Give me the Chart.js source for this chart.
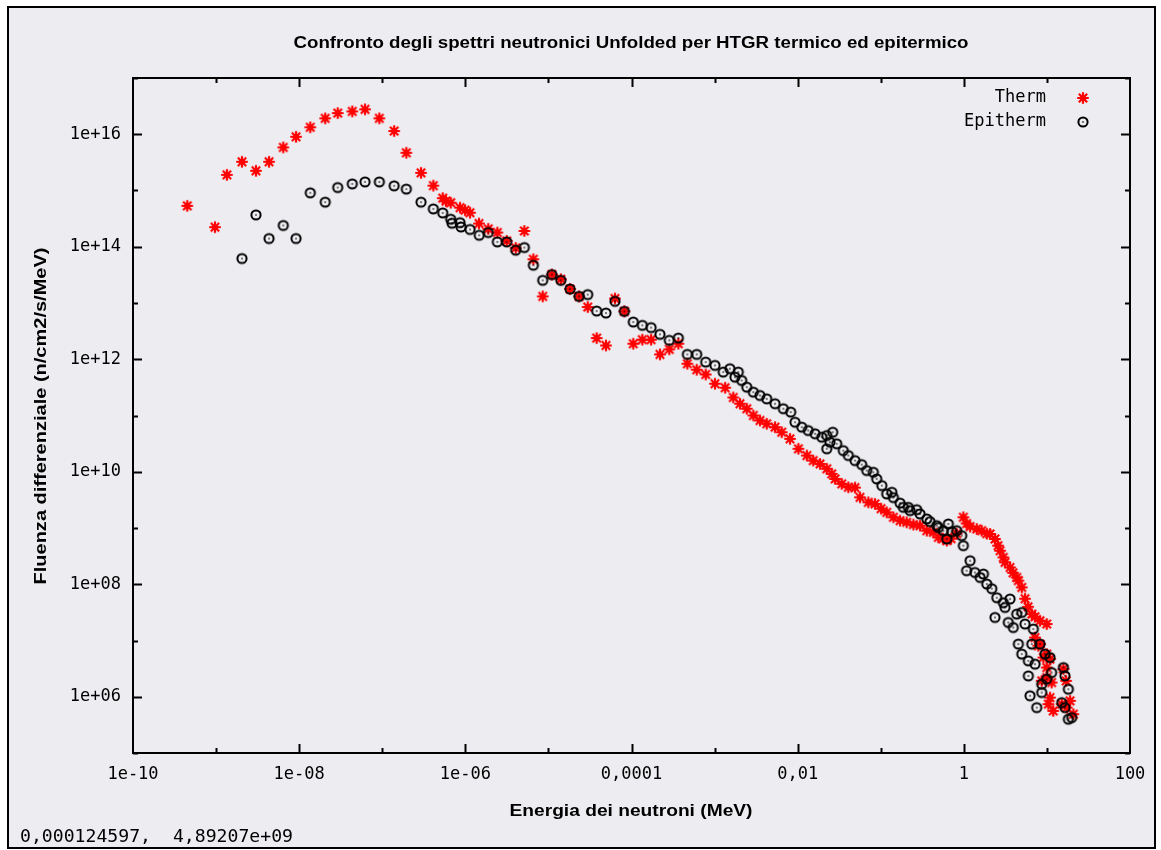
<!DOCTYPE html>
<html><head><meta charset="utf-8">
<script src="https://cdn.jsdelivr.net/npm/chart.js@4.4.1/dist/chart.umd.min.js"></script>
<style>html,body{margin:0;padding:0;background:#fff;overflow:hidden}#wrap{position:absolute;left:0;top:0;width:1161px;height:850px}canvas{display:block}</style>
</head><body><div id="wrap"><canvas id="c" width="1161" height="850"></canvas></div>
<script>
const chartTitle = 'Confronto degli spettri neutronici Unfolded per HTGR termico ed epitermico';
const xAxisTitle = 'Energia dei neutroni (MeV)';
const yAxisTitle = 'Fluenza differenziale (n/cm2/s/MeV)';
const cursorText = '0,000124597,  4,89207e+09';
const seriesNames = ['Therm', 'Epitherm'];
const xTickValues = [1e-10, 1e-8, 1e-6, 1e-4, 1e-2, 1, 100];
const xTickLabels = ['1e-10', '1e-08', '1e-06', '0,0001', '0,01', '1', '100'];
const yTickValues = [1e6, 1e8, 1e10, 1e12, 1e14, 1e16];
const yTickLabels = ['1e+06', '1e+08', '1e+10', '1e+12', '1e+14', '1e+16'];

const thermE = [4.50e-10, 9.70e-10, 1.35e-9, 2.05e-9, 3.02e-9, 4.34e-9, 6.44e-9, 9.16e-9, 1.36e-8, 2.06e-8,
  2.91e-8, 4.36e-8, 6.20e-8, 9.22e-8, 1.39e-7, 1.95e-7, 2.93e-7, 4.12e-7, 5.34e-7, 5.85e-7,
  6.67e-7, 8.63e-7, 9.91e-7, 1.14e-6, 1.46e-6, 1.89e-6, 2.43e-6, 3.15e-6, 4.04e-6, 5.13e-6,
  6.58e-6, 8.54e-6, 1.10e-5, 1.41e-5, 1.82e-5, 2.34e-5, 2.97e-5, 3.81e-5, 4.93e-5, 6.33e-5,
  8.20e-5, 1.05e-4, 1.35e-4, 1.72e-4, 2.20e-4, 2.85e-4, 3.66e-4, 4.70e-4, 6.10e-4, 7.82e-4,
  1.01e-3, 1.34e-3, 1.68e-3, 2.02e-3, 2.44e-3, 2.93e-3, 3.52e-3, 4.24e-3, 5.34e-3, 6.43e-3,
  8.09e-3, 1.02e-2, 1.29e-2, 1.54e-2, 1.86e-2, 2.24e-2, 2.57e-2, 2.82e-2, 3.39e-2, 4.07e-2,
  4.90e-2, 5.63e-2, 7.09e-2, 8.53e-2, 0.101, 0.118, 0.142, 0.171, 0.205, 0.247,
  0.297, 0.358, 0.430, 0.493, 0.562, 0.623, 0.702, 0.821, 0.986, 1.08,
  1.19, 1.43, 1.64, 1.89, 2.07, 2.37, 2.58, 2.73, 2.99, 3.13,
  3.60, 3.91, 4.33, 4.53, 4.98, 5.45, 5.92, 6.57, 7.19, 8.26,
  9.95, 7.19, 7.88, 8.26, 9.06, 9.95, 10.9, 9.95, 8.66, 9.95,
  11.4, 15.8, 10.9, 10.4, 11.9, 15.1, 17.3, 19.0, 20.8, 17.0];
const thermF = [5.33e14, 2.23e14, 1.90e15, 3.24e15, 2.24e15, 3.24e15, 5.84e15, 9.02e15, 1.33e16, 1.92e16,
  2.38e16, 2.55e16, 2.77e16, 1.92e16, 1.14e16, 4.68e15, 2.06e15, 1.22e15, 7.31e14, 6.46e14,
  6.07e14, 4.95e14, 4.47e14, 4.03e14, 2.59e14, 2.08e14, 1.79e14, 1.27e14, 9.53e13, 1.91e14,
  5.99e13, 1.31e13, 3.20e13, 2.64e13, 1.77e13, 1.31e13, 8.48e12, 2.38e12, 1.76e12, 1.20e13,
  7.11e12, 1.89e12, 2.23e12, 2.23e12, 1.22e12, 1.50e12, 1.89e12, 8.33e11, 6.52e11, 5.37e11,
  3.67e11, 3.12e11, 2.09e11, 1.62e11, 1.32e11, 1.00e11, 8.16e10, 7.12e10, 6.20e10, 5.05e10,
  3.85e10, 2.56e10, 1.94e10, 1.58e10, 1.38e10, 1.13e10, 9.17e9, 7.47e9, 6.09e9, 5.29e9,
  5.23e9, 3.51e9, 2.86e9, 2.68e9, 2.21e9, 1.90e9, 1.55e9, 1.35e9, 1.26e9, 1.15e9,
  1.10e9, 8.97e8, 8.37e8, 6.82e8, 6.47e8, 5.96e8, 6.47e8, 7.93e8, 1.55e9, 1.20e9,
  1.06e9, 9.62e8, 8.97e8, 7.93e8, 7.84e8, 6.39e8, 4.85e8, 3.95e8, 3.00e8, 2.45e8,
  1.99e8, 1.60e8, 1.32e8, 1.16e8, 8.78e7, 5.53e7, 3.98e7, 2.95e7, 2.64e7, 2.24e7,
  1.96e7, 1.13e7, 8.05e6, 8.63e6, 4.98e6, 5.73e6, 4.67e6, 3.31e6, 1.92e6, 2.19e6,
  1.79e6, 3.10e6, 9.67e5, 7.38e5, 5.60e5, 7.38e5, 6.42e5, 8.45e5, 4.90e5, 1.92e6];

const epiE = [2.05e-9, 3.02e-9, 4.34e-9, 6.44e-9, 9.16e-9, 1.36e-8, 2.06e-8, 2.91e-8, 4.36e-8, 6.20e-8,
  9.22e-8, 1.39e-7, 1.95e-7, 2.93e-7, 4.12e-7, 5.34e-7, 6.67e-7, 6.91e-7, 8.63e-7, 8.87e-7,
  1.14e-6, 1.47e-6, 1.89e-6, 2.43e-6, 3.15e-6, 4.04e-6, 5.13e-6, 6.58e-6, 8.54e-6, 1.10e-5,
  1.41e-5, 1.82e-5, 2.34e-5, 2.97e-5, 3.81e-5, 4.93e-5, 6.33e-5, 8.20e-5, 1.05e-4, 1.35e-4,
  1.72e-4, 2.20e-4, 2.85e-4, 3.66e-4, 4.70e-4, 6.10e-4, 7.82e-4, 1.01e-3, 1.27e-3, 1.53e-3,
  1.76e-3, 1.93e-3, 2.12e-3, 2.44e-3, 2.93e-3, 3.52e-3, 4.24e-3, 5.34e-3, 6.72e-3, 8.25e-3,
  9.30e-3, 1.12e-2, 1.34e-2, 1.62e-2, 1.95e-2, 2.24e-2, 2.64e-2, 2.45e-2, 2.24e-2, 2.95e-2,
  3.54e-2, 4.07e-2, 4.90e-2, 5.90e-2, 6.78e-2, 8.14e-2, 8.95e-2, 0.103, 0.118, 0.136,
  0.142, 0.171, 0.187, 0.215, 0.225, 0.271, 0.297, 0.358, 0.392, 0.472,
  0.493, 0.567, 0.623, 0.651, 0.715, 0.821, 0.943, 0.986, 1.19, 1.08,
  1.36, 1.57, 1.72, 1.89, 2.17, 2.49, 2.99, 3.60, 2.37, 3.13,
  3.43, 3.94, 4.33, 4.98, 5.45, 6.86, 4.53, 6.57, 8.26, 4.98,
  5.98, 7.19, 9.49, 10.9, 11.4, 5.98, 9.95, 8.66, 8.66, 6.26,
  7.54, 15.8, 16.5, 18.1, 15.1, 16.5, 18.1, 19.9];
const epiF = [6.17e13, 3.68e14, 1.40e14, 2.39e14, 1.40e14, 9.08e14, 6.20e14, 1.13e15, 1.31e15, 1.42e15,
  1.42e15, 1.21e15, 1.06e15, 6.20e14, 4.71e14, 4.00e14, 3.09e14, 2.62e14, 2.68e14, 2.25e14,
  2.03e14, 1.60e14, 1.79e14, 1.22e14, 1.22e14, 8.67e13, 9.68e13, 4.69e13, 2.53e13, 3.20e13,
  2.53e13, 1.77e13, 1.31e13, 1.41e13, 7.20e12, 6.63e12, 1.07e13, 7.11e12, 4.59e12, 4.01e12,
  3.65e12, 2.77e12, 2.17e12, 2.38e12, 1.22e12, 1.22e12, 8.90e11, 7.77e11, 5.91e11, 6.79e11,
  4.81e11, 5.91e11, 4.20e11, 3.19e11, 2.60e11, 2.27e11, 1.98e11, 1.62e11, 1.32e11, 1.15e11,
  7.60e10, 6.20e10, 5.41e10, 4.73e10, 4.11e10, 4.41e10, 5.05e10, 3.35e10, 2.56e10, 3.14e10,
  2.38e10, 1.94e10, 1.58e10, 1.34e10, 1.05e10, 9.79e9, 7.47e9, 5.68e9, 4.04e9, 4.31e9,
  3.47e9, 2.77e9, 2.33e9, 2.33e9, 2.04e9, 2.12e9, 1.78e9, 1.45e9, 1.30e9, 1.10e9,
  1.02e9, 8.97e8, 6.39e8, 1.18e9, 8.61e8, 8.97e8, 7.31e8, 4.85e8, 2.62e8, 1.74e8,
  1.62e8, 1.32e8, 1.52e8, 1.01e8, 8.33e7, 5.76e7, 4.69e7, 5.46e7, 2.57e7, 3.87e7,
  2.09e7, 1.70e7, 2.95e7, 3.15e7, 1.96e7, 1.60e7, 8.63e6, 8.63e6, 8.63e6, 5.73e6,
  4.35e6, 3.80e6, 5.73e6, 4.98e6, 2.69e6, 2.35e6, 2.06e6, 1.67e6, 1.19e6, 1.04e6,
  6.42e5, 3.31e6, 2.35e6, 1.36e6, 7.88e5, 6.42e5, 3.99e5, 4.26e5];

const BG = 'rgb(237,237,241)';
const RED = '#ff0000';
const TICK_FONT = 'DejaVu Sans Mono';
const BOLD_FONT = 'bold 16px "Liberation Sans", "DejaVu Sans", sans-serif';

function makeStar() {
  const c = document.createElement('canvas');
  c.width = 14; c.height = 14;
  const g = c.getContext('2d');
  g.strokeStyle = RED; g.fillStyle = RED; g.lineWidth = 2.2;
  const r = 5.8, cx = 7, cy = 7, d = r * 0.72;
  g.beginPath();
  g.moveTo(cx - r, cy); g.lineTo(cx + r, cy);
  g.moveTo(cx, cy - r); g.lineTo(cx, cy + r);
  g.moveTo(cx - d, cy - d); g.lineTo(cx + d, cy + d);
  g.moveTo(cx - d, cy + d); g.lineTo(cx + d, cy - d);
  g.stroke();
  g.beginPath(); g.arc(cx, cy, 3, 0, Math.PI * 2); g.fill();
  return c;
}
function makeRing() {
  const c = document.createElement('canvas');
  c.width = 14; c.height = 14;
  const g = c.getContext('2d');
  g.strokeStyle = '#000'; g.lineWidth = 2;
  g.beginPath(); g.arc(7, 7, 4.6, 0, Math.PI * 2); g.stroke();
  g.fillStyle = '#000'; g.fillRect(6.3, 6.3, 1.4, 1.4);
  return c;
}
const starImg = makeStar();
const ringImg = makeRing();

function fitText(ctx, text, x, y, font, width, align, rot) {
  ctx.save();
  ctx.font = font;
  const w = ctx.measureText(text).width;
  const s = width ? width / w : 1;
  ctx.translate(x, y);
  if (rot) ctx.rotate(rot);
  ctx.scale(s, 1);
  ctx.textAlign = align; ctx.textBaseline = 'middle';
  ctx.fillStyle = '#000';
  ctx.fillText(text, 0, 0);
  ctx.restore();
}

const decorPlugin = {
  id: 'decor',
  beforeDraw(chart) {
    const ctx = chart.ctx;
    ctx.save();
    ctx.fillStyle = '#fff';
    ctx.fillRect(0, 0, chart.width, chart.height);
    ctx.fillStyle = BG;
    ctx.fillRect(8, 7, 1147, 841);
    ctx.strokeStyle = '#000'; ctx.lineWidth = 2;
    ctx.strokeRect(8, 7, 1147, 841);
    ctx.restore();
  },
  afterDraw(chart) {
    const ctx = chart.ctx;
    const a = chart.chartArea;
    const xs = chart.scales.x, ys = chart.scales.y;
    ctx.save();
    ctx.strokeStyle = '#000';
    ctx.lineWidth = 2;
    ctx.strokeRect(a.left, a.top, a.right - a.left, a.bottom - a.top);
    ctx.beginPath();
    xTickValues.forEach((v, i) => {
      const px = Math.round(xs.getPixelForValue(v)) + 0.5;
      if (i > 0 && i < xTickValues.length - 1) {
        ctx.moveTo(px, a.bottom); ctx.lineTo(px, a.bottom - 9);
        ctx.moveTo(px, a.top); ctx.lineTo(px, a.top + 9);
      }
      if (i < xTickValues.length - 1) {
        const m = Math.round(xs.getPixelForValue(v * 10)) + 0.5;
        ctx.moveTo(m, a.bottom); ctx.lineTo(m, a.bottom - 5);
        ctx.moveTo(m, a.top); ctx.lineTo(m, a.top + 5);
      }
    });
    yTickValues.forEach((v) => {
      const py = Math.round(ys.getPixelForValue(v)) + 0.5;
      ctx.moveTo(a.left, py); ctx.lineTo(a.left + 9, py);
      ctx.moveTo(a.right, py); ctx.lineTo(a.right - 9, py);
      [v / 10, v * 10].forEach((mv) => {
        const m = Math.round(ys.getPixelForValue(mv)) + 0.5;
        ctx.moveTo(a.left, m); ctx.lineTo(a.left + 5, m);
        ctx.moveTo(a.right, m); ctx.lineTo(a.right - 5, m);
      });
    });
    ctx.stroke();
    ctx.restore();

    fitText(ctx, chartTitle, 631, 44, BOLD_FONT, 675, 'center');
    fitText(ctx, xAxisTitle, 631, 812, BOLD_FONT, 243, 'center');
    fitText(ctx, yAxisTitle, 42, 416, BOLD_FONT, 337, 'center', -Math.PI / 2);
    fitText(ctx, cursorText, 20, 838, '17px "' + TICK_FONT + '"', 273, 'left');
    fitText(ctx, seriesNames[0], 1046, 98, '17px "' + TICK_FONT + '"', 0, 'right');
    fitText(ctx, seriesNames[1], 1046, 122, '17px "' + TICK_FONT + '"', 0, 'right');
    ctx.drawImage(starImg, 1083 - 7, 98 - 7);
    ctx.drawImage(ringImg, 1083 - 7, 122 - 7);
  }
};

const ctx = document.getElementById('c').getContext('2d');
new Chart(ctx, {
  type: 'scatter',
  data: {
    datasets: [
      {
        label: seriesNames[0],
        data: thermE.map((e, i) => ({ x: e, y: thermF[i] })),
        pointStyle: starImg, pointRadius: 6, order: 2
      },
      {
        label: seriesNames[1],
        data: epiE.map((e, i) => ({ x: e, y: epiF[i] })),
        pointStyle: ringImg, pointRadius: 6, order: 1
      }
    ]
  },
  options: {
    responsive: false,
    animation: false,
    devicePixelRatio: 1,
    layout: { padding: { left: 0, top: 78, right: 31, bottom: 0 } },
    plugins: { legend: { display: false }, title: { display: false }, tooltip: { enabled: false } },
    scales: {
      x: {
        type: 'logarithmic', min: 1e-10, max: 100,
        grid: { display: false, drawTicks: false }, border: { display: false },
        afterBuildTicks: (s) => { s.ticks = xTickValues.map((v) => ({ value: v })); },
        afterFit: (s) => { s.height = 97; },
        ticks: {
          autoSkip: false, maxRotation: 0, padding: 11, color: '#000',
          font: { family: TICK_FONT, size: 17 },
          callback: (v) => { const i = xTickValues.indexOf(v); return i >= 0 ? xTickLabels[i] : ''; }
        }
      },
      y: {
        type: 'logarithmic', min: 1e5, max: 1e17,
        grid: { display: false, drawTicks: false }, border: { display: false },
        afterBuildTicks: (s) => { s.ticks = yTickValues.map((v) => ({ value: v })); },
        afterFit: (s) => { s.width = 133; },
        ticks: {
          autoSkip: false, padding: 12, color: '#000',
          font: { family: TICK_FONT, size: 17 },
          callback: (v) => { const i = yTickValues.indexOf(v); return i >= 0 ? yTickLabels[i] : ''; }
        }
      }
    }
  },
  plugins: [decorPlugin]
});
</script>
</body></html>
